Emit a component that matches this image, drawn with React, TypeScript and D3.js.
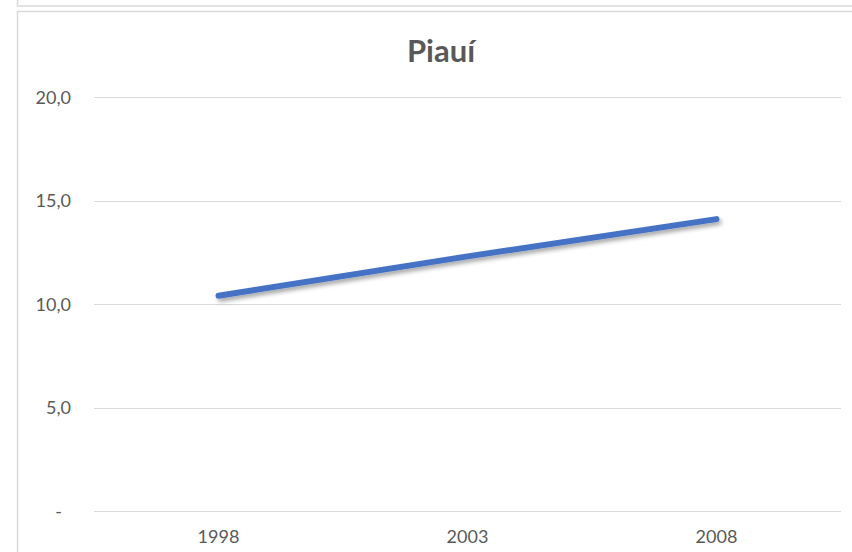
import React, { useEffect, useRef } from 'react';
import * as d3 from 'd3';

const years = ['1998', '2003', '2008'];
const values = [10.4, 12.3, 14.1];
const yTicks = [0, 5, 10, 15, 20];
const title = 'Piauí';

const App = () => {
  const ref = useRef<SVGSVGElement>(null);

  useEffect(() => {
    const width = 852;
    const height = 552;
    const left = 94;
    const right = 841;
    const top = 97;
    const bottom = 511;
    const font = 'Lato, "Open Sans", sans-serif';

    const svg = d3.select(ref.current);
    svg.selectAll('*').remove();

    const defs = svg.append('defs');
    const filt = defs.append('filter').attr('id', 'shadow')
      .attr('x', '-10%').attr('y', '-50%').attr('width', '120%').attr('height', '200%');
    filt.append('feDropShadow')
      .attr('dx', 2).attr('dy', 3).attr('stdDeviation', 2)
      .attr('flood-color', '#000').attr('flood-opacity', 0.35);

    svg.append('rect').attr('width', width).attr('height', height).attr('fill', '#fff');

    // outer frames
    svg.append('rect')
      .attr('x', 17.5).attr('y', -10).attr('width', 900).attr('height', 16)
      .attr('fill', 'none').attr('stroke', '#d9d9d9').attr('stroke-width', 1.5);
    svg.append('rect')
      .attr('x', 17.5).attr('y', 11.5).attr('width', 900).attr('height', 600)
      .attr('fill', 'none').attr('stroke', '#d9d9d9').attr('stroke-width', 1.5);

    const x = d3.scaleBand().domain(years).range([left, right]);
    const y = d3.scaleLinear().domain([0, 20]).range([bottom, top]);

    // gridlines
    svg.append('g').selectAll('line').data(yTicks).enter().append('line')
      .attr('x1', left).attr('x2', right)
      .attr('y1', d => Math.round(y(d)) + 0.5).attr('y2', d => Math.round(y(d)) + 0.5)
      .attr('stroke', '#d9d9d9').attr('stroke-width', 1);

    // y labels
    svg.append('g').selectAll('text').data(yTicks).enter().append('text')
      .attr('x', d => (d === 0 ? 62 : 71))
      .attr('y', d => y(d) + 2)
      .attr('text-anchor', 'end')
      .attr('dominant-baseline', 'middle')
      .attr('font-family', font).attr('font-size', 18).attr('fill', '#595959')
      .text(d => (d === 0 ? '-' : d3.format('.1f')(d).replace('.', ',')));

    // x labels
    svg.append('g').selectAll('text').data(years).enter().append('text')
      .attr('x', d => (x(d) as number) + x.bandwidth() / 2)
      .attr('y', 543)
      .attr('text-anchor', 'middle')
      .attr('font-family', font).attr('font-size', 18).attr('fill', '#595959')
      .text(d => d);

    // line
    const line = d3.line<number>()
      .x((d, i) => (x(years[i]) as number) + x.bandwidth() / 2)
      .y(d => y(d));
    svg.append('path')
      .datum(values)
      .attr('d', line)
      .attr('fill', 'none')
      .attr('stroke', '#4472c4')
      .attr('stroke-width', 6)
      .attr('stroke-linecap', 'round')
      .attr('filter', 'url(#shadow)');

    // title
    svg.append('text')
      .attr('x', 441).attr('y', 62)
      .attr('text-anchor', 'middle')
      .attr('font-family', font).attr('font-size', 31).attr('font-weight', 'bold')
      .attr('fill', '#595959')
      .text(title);
  }, []);

  return (
    <svg ref={ref} width={852} height={552}
      style={{ position: 'absolute', left: 0, top: 0, display: 'block' }} />
  );
};

export default App;
